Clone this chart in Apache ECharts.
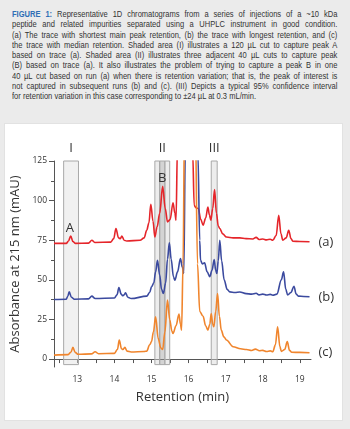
<!DOCTYPE html>
<html>
<head>
<meta charset="utf-8">
<script src="https://cdn.jsdelivr.net/npm/echarts@6/dist/echarts.min.js"></script>
<style>
  html, body { margin: 0; padding: 0; }
  body { width: 350px; height: 429px; background: #ebebeb; position: relative; overflow: hidden; }
  .caption {
    position: absolute; left: 12px; top: 9px; width: 392px;
    transform: scaleX(0.83); transform-origin: 0 0;
    font-family: "Liberation Sans", Arial, sans-serif; font-size: 9.1px; line-height: 10.3px; color: #333;
  }
  .caption div { text-align: justify; text-align-last: justify; white-space: nowrap; }
  .caption div.last { text-align-last: left; }
  .caption b { color: #2f6fb5; }
  .panel { position: absolute; left: 4px; top: 123px; width: 339px; height: 298px; background: #fff; border: 1px solid #e2e2e2; box-sizing: border-box; }
  #chart { position: absolute; left: 0; top: 0; width: 350px; height: 429px; }
</style>
</head>
<body>
<div class="caption">
  <div><b>FIGURE 1:</b> Representative 1D chromatograms from a series of injections of a ~10 kDa</div>
  <div>peptide and related impurities separated using a UHPLC instrument in good condition.</div>
  <div>(a) The trace with shortest main peak retention, (b) the trace with longest retention, and (c)</div>
  <div>the trace with median retention. Shaded area (I) illustrates a 120 µL cut to capture peak A</div>
  <div>based on trace (a). Shaded area (II) illustrates three adjacent 40 µL cuts to capture peak</div>
  <div>(B) based on trace (a). It also illustrates the problem of trying to capture a peak B in one</div>
  <div>40 µL cut based on run (a) when there is retention variation; that is, the peak of interest is</div>
  <div>not captured in subsequent runs (b) and (c). (III) Depicts a typical 95% confidence interval</div>
  <div class="last">for retention variation in this case corresponding to ±24 µL at 0.3 mL/min.</div>
</div>
<div class="panel"></div>
<div id="chart"></div>
<script>
// trace (a): shortest main peak retention
const timeA = [12.37, 12.70, 12.76, 12.82, 12.88, 12.95, 13.30, 13.39, 13.47, 13.90, 13.98, 14.04, 14.11, 14.16, 14.20, 14.26, 14.33, 14.69, 14.80, 14.87, 14.93, 14.98, 15.04, 15.09, 15.15, 15.22, 15.30, 15.37, 15.43, 15.50, 15.58, 15.63, 15.66, 15.70, 15.76, 16.04, 16.11, 16.15, 16.20, 16.26, 16.33, 16.39, 16.46, 16.52, 16.56, 16.60, 16.65, 16.70, 16.75, 16.80, 16.84, 16.92, 17.02, 17.20, 17.38, 17.55, 17.73, 17.82, 17.90, 18.00, 18.10, 18.20, 18.27, 18.36, 18.43, 18.49, 18.54, 18.63, 18.70, 18.76, 18.81, 19.00, 19.26];
const absA = [73.0, 73.0, 74.5, 77.7, 74.2, 73.0, 73.2, 75.0, 73.6, 73.8, 76.0, 82.4, 76.5, 76.0, 77.7, 75.0, 74.5, 75.0, 76.5, 81.3, 86.0, 97.7, 87.0, 77.0, 83.4, 92.0, 109.0, 95.0, 86.6, 88.0, 98.7, 92.0, 87.6, 135, 400, 400, 130, 97.0, 95.5, 95.0, 88.0, 84.5, 89.0, 96.0, 91.0, 87.6, 95.0, 107.0, 92.0, 84.0, 82.4, 79.0, 77.0, 76.5, 76.5, 76.0, 75.8, 76.8, 75.5, 75.8, 75.2, 75.6, 75.0, 78.0, 90.8, 79.0, 75.0, 76.5, 81.3, 76.0, 74.4, 74.2, 74.0];

// trace (b): longest retention
const timeB = [12.37, 12.70, 12.74, 12.78, 12.84, 12.92, 13.30, 13.39, 13.48, 14.00, 14.07, 14.12, 14.18, 14.22, 14.26, 14.30, 14.36, 14.45, 14.87, 14.95, 15.00, 15.06, 15.11, 15.16, 15.22, 15.27, 15.32, 15.38, 15.43, 15.48, 15.53, 15.59, 15.63, 15.70, 15.78, 15.83, 15.87, 15.91, 15.97, 16.18, 16.25, 16.30, 16.32, 16.37, 16.43, 16.50, 16.57, 16.63, 16.69, 16.73, 16.76, 16.80, 16.84, 16.89, 16.96, 17.04, 17.11, 17.25, 17.38, 17.55, 17.70, 17.82, 17.90, 18.00, 18.10, 18.20, 18.27, 18.38, 18.50, 18.56, 18.62, 18.67, 18.76, 18.84, 18.90, 18.96, 19.10, 19.26];
const absB = [37.6, 37.8, 39.5, 42.4, 39.0, 37.8, 38.0, 39.7, 38.2, 38.5, 40.5, 45.2, 41.0, 40.0, 40.5, 41.8, 39.0, 38.2, 39.7, 42.0, 45.6, 48.0, 55.0, 62.4, 53.0, 44.0, 41.4, 48.0, 63.0, 73.3, 63.0, 52.0, 49.8, 55.0, 63.4, 58.0, 54.0, 130, 400, 400, 130, 75.0, 62.4, 60.0, 60.7, 55.0, 52.0, 56.0, 62.8, 56.0, 54.0, 62.0, 75.0, 62.0, 49.8, 44.0, 42.4, 42.0, 42.3, 41.3, 41.0, 41.5, 40.5, 41.0, 40.4, 40.8, 40.3, 41.0, 50.0, 55.0, 44.0, 40.5, 42.0, 46.0, 41.0, 39.7, 39.5, 39.3];

// trace (c): median retention
const timeC = [12.37, 12.75, 12.83, 12.88, 12.94, 13.02, 13.38, 13.48, 13.57, 14.00, 14.08, 14.13, 14.19, 14.23, 14.28, 14.34, 14.45, 14.80, 14.87, 14.95, 15.00, 15.05, 15.11, 15.18, 15.25, 15.30, 15.36, 15.43, 15.49, 15.55, 15.58, 15.66, 15.74, 15.78, 15.81, 15.85, 15.89, 15.97, 16.08, 16.18, 16.24, 16.30, 16.39, 16.46, 16.52, 16.57, 16.61, 16.65, 16.68, 16.73, 16.78, 16.83, 16.88, 16.95, 17.02, 17.20, 17.40, 17.56, 17.70, 17.80, 17.91, 18.00, 18.10, 18.20, 18.27, 18.34, 18.40, 18.46, 18.50, 18.59, 18.66, 18.72, 18.78, 19.00, 19.26];
const absC = [2.5, 2.8, 4.5, 7.4, 4.2, 3.0, 3.3, 4.6, 3.4, 3.6, 6.0, 12.0, 6.5, 6.0, 7.4, 5.0, 4.5, 4.8, 5.0, 9.0, 11.0, 17.0, 26.7, 13.0, 7.0, 6.0, 17.0, 37.2, 25.0, 17.5, 16.2, 21.0, 28.4, 22.0, 18.3, 60, 150, 400, 400, 150, 60, 30.0, 27.0, 21.0, 18.3, 22.0, 28.8, 22.0, 20.4, 30.0, 41.4, 27.0, 18.3, 14.0, 12.0, 7.8, 6.5, 6.0, 5.4, 6.3, 5.3, 5.5, 4.8, 5.2, 4.6, 9.0, 20.4, 8.0, 4.8, 6.0, 11.0, 5.5, 4.3, 4.2, 4.0];

// cut windows (min)
const cutI = [12.63, 13.03];
const cutII = [15.09, 15.22, 15.36, 15.49];
const cutIII = [16.61, 16.77];

const xLabels = [13, 14, 15, 16, 17, 18, 19];
const xTicks = [12.5, 13, 13.5, 14, 14.5, 15, 15.5, 16, 16.5, 17, 17.5, 18, 18.5, 19];
const yLabels = [0, 25, 50, 75, 100, 125];
const yMinor = [12.5, 37.5, 62.5, 87.5, 112.5];

const peakA = [12.80, 82.5];
const peakB = [15.29, 113.9];

const zip = (t, v) => t.map((x, i) => [x, v[i]]);
const font = '"Open Sans", "Noto Sans", sans-serif';
const areaBottom = -3.5;
const areaTop = 125;

const chart = echarts.init(document.getElementById('chart'));

const lineSeries = (name, t, v, color, tag) => ({
  name,
  type: 'line',
  data: zip(t, v),
  showSymbol: false,
  smooth: 0.35,
  smoothMonotone: 'x',
  z: 3,
  lineStyle: { color, width: 1.6 },
  endLabel: { show: true, formatter: tag, distance: 9, color: '#333', fontSize: 13, fontFamily: font }
});

const area = (x0, x1, fill, label) => [
  { xAxis: x0, yAxis: areaBottom, itemStyle: { color: fill }, label: label ? { show: true, formatter: label } : { show: false } },
  { xAxis: x1, yAxis: areaTop }
];

chart.setOption({
  animation: false,
  grid: { left: 54, top: 161, right: 39, bottom: 62 },
  xAxis: {
    type: 'value',
    min: 12.37,
    max: 19.3,
    name: 'Retention (min)',
    nameLocation: 'middle',
    nameGap: 24,
    nameTextStyle: { fontSize: 13, color: '#333', fontFamily: font },
    axisLine: { lineStyle: { color: '#555', width: 1 } },
    axisTick: { length: 4, lineStyle: { color: '#555' }, customValues: xTicks },
    axisLabel: { customValues: xLabels, fontSize: 8.5, color: '#333', margin: 8, fontFamily: font },
    splitLine: { show: false }
  },
  yAxis: [{
    type: 'value',
    min: -5,
    max: 125,
    name: 'Absorbance at 215 nm (mAU)',
    nameLocation: 'middle',
    nameGap: 26,
    nameTextStyle: { fontSize: 13, color: '#333', fontFamily: font },
    axisLine: { show: true, lineStyle: { color: '#555', width: 1 } },
    axisTick: { show: true, length: 5, lineStyle: { color: '#555' }, customValues: yLabels },
    axisLabel: { customValues: yLabels, fontSize: 8.5, color: '#333', margin: 7, fontFamily: font },
    splitLine: { show: false }
  }, {
    type: 'value',
    min: -5,
    max: 125,
    position: 'left',
    offset: 0,
    axisLine: { show: false },
    axisTick: { show: true, length: 3, lineStyle: { color: '#555' }, customValues: yMinor },
    axisLabel: { show: false },
    splitLine: { show: false }
  }],
  series: [
    {
      type: 'line',
      data: [],
      z: 1,
      markArea: {
        silent: true,
        itemStyle: { borderColor: '#a8a8a8', borderWidth: 1 },
        label: { position: 'top', distance: 6, fontSize: 13, color: '#333', fontFamily: font },
        data: [
          area(cutI[0], cutI[1], 'rgba(225,225,225,0.45)', 'I'),
          area(cutII[0], cutII[1], 'rgba(215,215,215,0.45)'),
          area(cutII[1], cutII[2], 'rgba(160,160,160,0.45)', 'II'),
          area(cutII[2], cutII[3], 'rgba(215,215,215,0.45)'),
          area(cutIII[0], cutIII[1], 'rgba(215,215,215,0.45)', 'III')
        ]
      },
      markPoint: {
        symbol: 'circle',
        symbolSize: 0,
        label: { show: true, position: 'inside', fontSize: 13, color: '#333', fontFamily: font },
        data: [
          { coord: peakA, label: { formatter: 'A' } },
          { coord: peakB, label: { formatter: 'B' } }
        ]
      }
    },
    lineSeries('a', timeA, absA, '#e5252a', '(a)'),
    lineSeries('b', timeB, absB, '#3b4a9f', '(b)'),
    lineSeries('c', timeC, absC, '#f0852d', '(c)')
  ]
});
</script>
</body>
</html>
